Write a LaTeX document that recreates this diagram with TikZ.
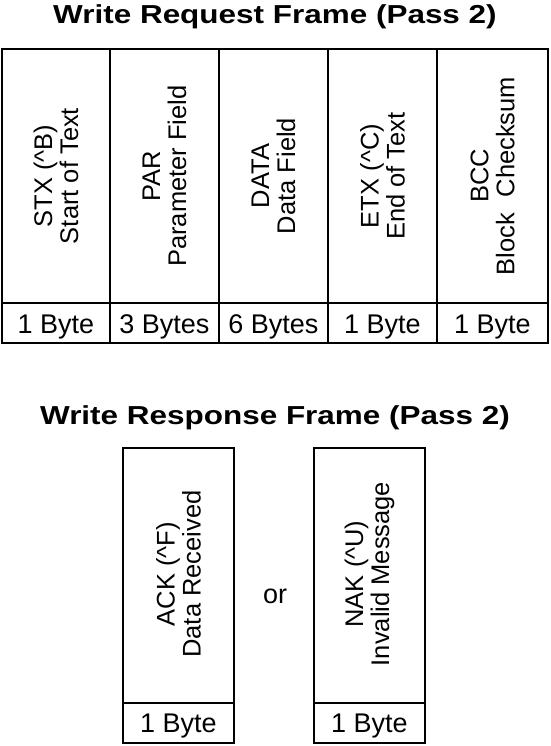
\documentclass[tikz,border=0pt]{standalone}
\usepackage{fontspec}
\setmainfont{Liberation Sans}
\usetikzlibrary{positioning}

\tikzset{
  framebox/.style={draw, line width=1.6pt},
  fieldtext/.style={rotate=90, align=center, font=\fontsize{25.5}{26}\selectfont},
  bytetext/.style={anchor=base, font=\fontsize{27}{27}\selectfont},
  titletext/.style={anchor=base, font=\fontsize{26}{26}\selectfont\bfseries},
}

\begin{document}
\begin{tikzpicture}[x=1pt, y=-1pt]
  \useasboundingbox (0,0) rectangle (550,746);

  % request frame
  \node[titletext] (reqtitle) at (275,24) {\scalebox{1.21}[1]{Write Request Frame (Pass 2)}};
  \foreach \xa/\xb/\name/\field/\size in {
      2/110/stx/{STX (\textasciicircum B)\\Start of Text}/{1 Byte},
      110/219/par/{PAR\\Parameter Field}/{3 Bytes},
      219/328/data/{DATA\\Data Field}/{6 Bytes},
      328/437/etx/{ETX (\textasciicircum C)\\End of Text}/{1 Byte},
      437/548/bcc/{BCC\\Block\hspace{0.6em}Checksum}/{1 Byte}}{
    \draw[framebox] (\xa,49) rectangle (\xb,343);
    \draw[framebox] (\xa,303) -- (\xb,303);
    \node[fieldtext] (\name) at ({(\xa+\xb)/2},176) {\field};
    \node[bytetext] (\name-size) at ({(\xa+\xb)/2},333) {\size};
  }

  % response frame
  \node[titletext] (resptitle) at (275,424) {\scalebox{1.21}[1]{Write Response Frame (Pass 2)}};
  \foreach \xa/\xb/\name/\field in {
      123/234/ack/{ACK (\textasciicircum F)\\Data Received},
      314/425/nak/{NAK (\textasciicircum U)\\Invalid Message}}{
    \draw[framebox] (\xa,448) rectangle (\xb,743);
    \draw[framebox] (\xa,703) -- (\xb,703);
    \node[fieldtext] (\name) at ({(\xa+\xb)/2},574) {\field};
    \node[bytetext] (\name-size) at ({(\xa+\xb)/2},732) {1 Byte};
  }
  \node[bytetext] (or) at (275,603) {or};
\end{tikzpicture}
\end{document}
